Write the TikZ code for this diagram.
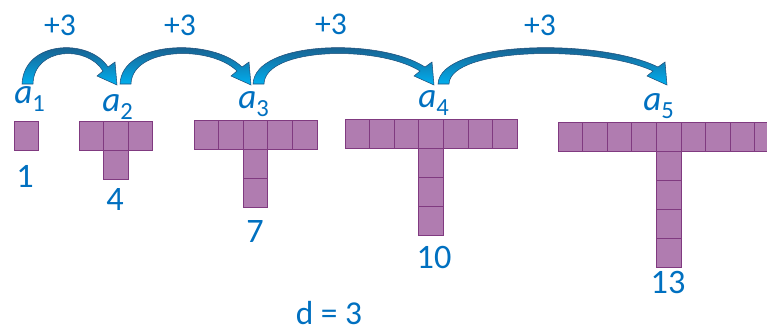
\documentclass[tikz,border=0pt]{standalone}
\usepackage{fontspec}
\setmainfont{Carlito}
\usepackage{tikz}
\usetikzlibrary{positioning, calc}
\definecolor{termblue}{RGB}{0,112,192}
\definecolor{cellfill}{RGB}{176,124,176}
\definecolor{celledge}{RGB}{128,58,128}
\definecolor{arrowdark}{RGB}{31,78,121}
\definecolor{arrowmid}{RGB}{46,117,182}
\definecolor{arrowlight}{RGB}{0,176,240}

% T-shaped block: left x, top y, cells in the row, stem column, stem cells
\newcommand{\tblock}[5]{%
  \foreach \i in {1,...,#3}
    \draw[cell] ({#1+(\i-1)*24.6},#2) rectangle ++(24.6,29);
  \ifnum#5>0
    \foreach \j in {1,...,#5}
      \draw[cell] ({#1+(#4-1)*24.6},{#2+\j*29}) rectangle ++(24.6,29);
  \fi}

% curved +3 arrow from tail x to tip x
\newcommand{\steparrow}[2]{%
  \pgfmathsetmacro{\arrlen}{#2-#1}
  \draw[jump] (#1,84) .. controls (#1+2,40) and (#2-0.3*\arrlen,38) .. (#2-10,67)
    -- (#2-3,62) -- (#2-1,85) -- (#2-21,76) -- (#2-15,71)
    .. controls (#2-0.3*\arrlen-2,45) and (#1+12,47) .. (#1+11,84) -- cycle;}

\newcommand{\aterm}[1]{{\fontsize{20}{24}\selectfont\itshape a}\raisebox{-0.16cm}{\fontsize{14}{16}\selectfont #1}}

\begin{document}
\begin{tikzpicture}[
    x=0.02cm, y=-0.02cm,
    cell/.style={draw=celledge, fill=cellfill, line width=0.5pt},
    jump/.style={draw=arrowdark, line width=0.3pt, top color=arrowdark, middle color=arrowmid, bottom color=arrowlight},
    term/.style={text=termblue, anchor=base west, inner sep=0pt},
    value/.style={text=termblue, font=\fontsize{19.5}{22}\selectfont, anchor=base, inner sep=0pt},
    plus/.style={text=termblue, font=\fontsize{18}{22}\selectfont, inner sep=0pt},
]
    \useasboundingbox (0,0) rectangle (767,332);
    \clip (0,0) rectangle (767,332);

    % squares
    \tblock{14}{121}{1}{1}{0}
    \tblock{79}{121}{3}{2}{1}
    \tblock{194}{120}{5}{3}{2}
    \tblock{345}{119}{7}{4}{3}
    \tblock{558}{122}{9}{5}{4}

    % arrows
    \steparrow{22}{118}
    \steparrow{120}{252}
    \steparrow{253}{435}
    \steparrow{438}{668}

    \node[plus] (p1) at (60,25) {+3};
    \node[plus] (p2) at (180,25) {+3};
    \node[plus] (p3) at (331,24) {+3};
    \node[plus] (p4) at (540,25) {+3};

    \node[term] (a1) at (14,103) {\aterm{1}};
    \node[term] (a2) at (102,111) {\aterm{2}};
    \node[term] (a3) at (238,108) {\aterm{3}};
    \node[term] (a4) at (418,107) {\aterm{4}};
    \node[term] (a5) at (643,110) {\aterm{5}};

    \node[value] (v1) at (25,187) {1};
    \node[value] (v2) at (115,210) {4};
    \node[value] (v3) at (255,242) {7};
    \node[value] (v4) at (434,268) {10};
    \node[value] (v5) at (668,293) {13};

    \node[value, font=\fontsize{19}{22}\selectfont] (d) at (329,324) {d = 3};
\end{tikzpicture}
\end{document}
